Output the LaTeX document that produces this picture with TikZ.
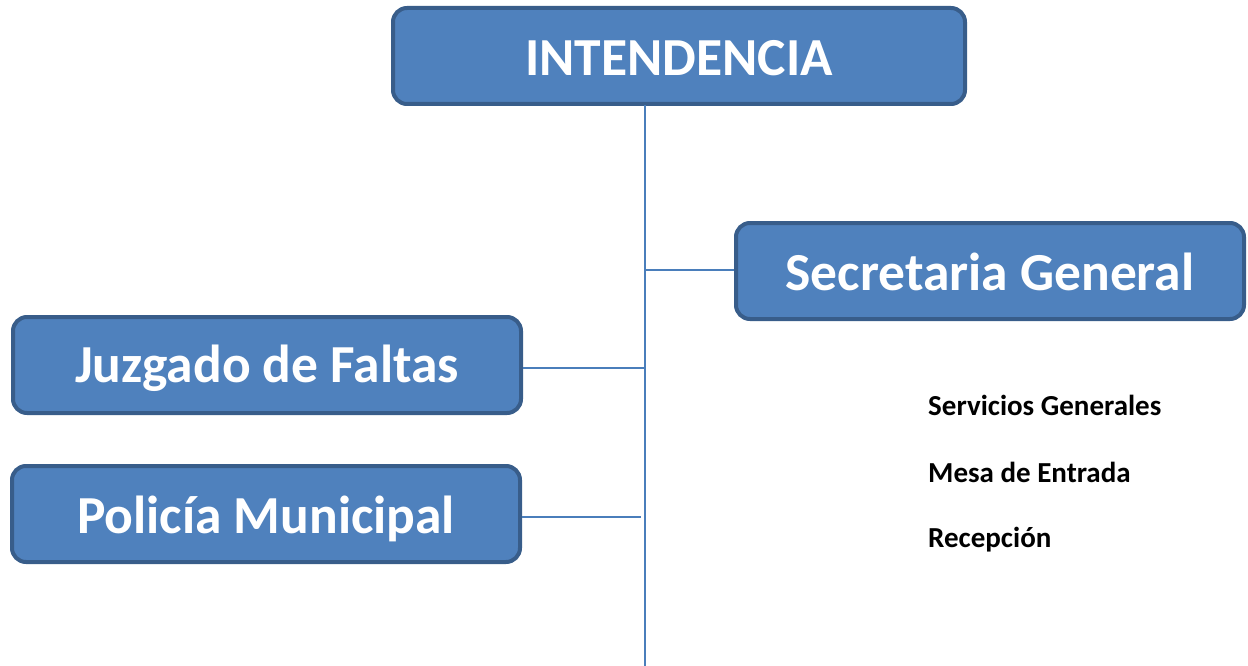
\documentclass[tikz,border=0pt]{standalone}
\usepackage{fontspec}
\setmainfont{Carlito}
\definecolor{boxfill}{HTML}{4F81BD}
\definecolor{boxdraw}{HTML}{385D8A}
\definecolor{linec}{HTML}{4A7EBB}
\newcommand{\bl}[2]{\raisebox{-#1pt}[0pt][0pt]{#2}}
\begin{document}
\begin{tikzpicture}[x=1pt,y=-1pt,
  orgbox/.style={draw=boxdraw,fill=boxfill,line width=4pt,rounded corners=14pt,
    text=white,font=\fontsize{53.5}{60}\selectfont\bfseries,inner sep=0pt},
  conn/.style={draw=linec,line width=2pt},
  sub/.style={font=\fontsize{29}{32}\selectfont\bfseries,anchor=west,inner sep=0pt}]
\useasboundingbox (0,0) rectangle (1248,666);
\node[orgbox,minimum width=572pt,minimum height=96pt] (int) at (679,56) {\bl{20}{INTENDENCIA}};
\node[orgbox,minimum width=508pt,minimum height=96pt] (sec) at (990,271) {\bl{19}{Secretaria General}};
\node[orgbox,minimum width=508pt,minimum height=96pt] (juz) at (267,365) {\bl{17}{Juzgado de Faltas}};
\node[orgbox,minimum width=508pt,minimum height=96pt] (pol) at (266,514) {\bl{19}{Policía Municipal}};
\coordinate (bot) at (645,666);
\coordinate (top) at (645,105);
\draw[conn] (top) -- (bot);
\draw[conn] (sec.west |- 0,270) -- (645,270);
\draw[conn] (juz.east |- 0,368) -- (645,368);
\draw[conn] (pol.east |- 0,517) -- (641,517);
\node[sub] (s1) at (928,405) {Servicios Generales};
\node[sub] (s2) at (928,472) {Mesa de Entrada};
\node[sub] (s3) at (928,540) {Recepción};
\end{tikzpicture}
\end{document}
